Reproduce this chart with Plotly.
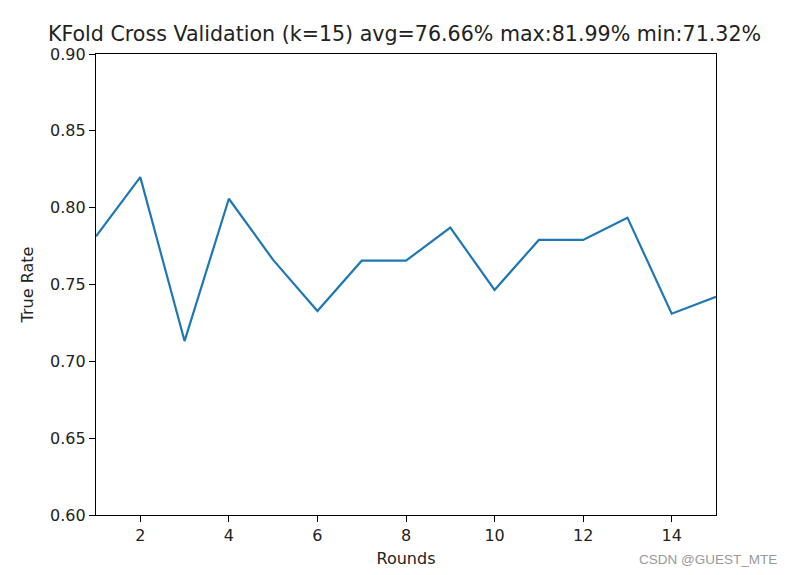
import plotly.graph_objects as go

rounds = list(range(1, 16))
true_rate = [0.7814, 0.8199, 0.7132, 0.8058, 0.7660, 0.7327, 0.7655, 0.7655,
             0.7870, 0.7465, 0.7790, 0.7790, 0.7935, 0.7310, 0.7420]
x_ticks = [2, 4, 6, 8, 10, 12, 14]
y_ticks = [0.60, 0.65, 0.70, 0.75, 0.80, 0.85, 0.90]
title_text = "KFold Cross Validation (k=15) avg=76.66% max:81.99% min:71.32%"

# page body has an 8px offset, compensated in margins
OFF = 8
fig = go.Figure()
fig.add_trace(go.Scatter(x=rounds, y=true_rate, mode="lines",
                         line=dict(color="#1f77b4", width=2.2), showlegend=False))

axis_common = dict(showline=True, linecolor="black", linewidth=1.2, mirror=True,
                   ticks="outside", ticklen=6, tickcolor="black", tickwidth=1.2,
                   showgrid=False, zeroline=False,
                   tickfont=dict(family="DejaVu Sans", size=16, color="#222222"))

fig.update_layout(
    width=791, height=575,
    margin=dict(l=96 - OFF, r=75 + OFF, t=54 - OFF, b=60 + OFF),
    paper_bgcolor="white", plot_bgcolor="white",
    font=dict(family="DejaVu Sans", color="#222222"),
    title=dict(text=title_text, x=(404.5 - OFF) / 791, xanchor="center",
               y=1 - (34 - OFF) / 575, yanchor="middle",
               font=dict(family="DejaVu Sans", size=20.6, color="#222222")),
    xaxis=dict(range=[1, 15], tickvals=x_ticks,
               title=dict(text="Rounds", standoff=8,
                          font=dict(family="DejaVu Sans", size=16)), **axis_common),
    yaxis=dict(range=[0.6, 0.9], tickvals=y_ticks, tickformat=".2f",
               title=dict(text="True Rate", standoff=12,
                          font=dict(family="DejaVu Sans", size=16)), **axis_common),
)

fig.add_annotation(text="CSDN @GUEST_MTE", xref="paper", yref="paper",
                   x=683 / 620, xanchor="right",
                   y=-(559 - 515) / 461, yanchor="middle", showarrow=False,
                   font=dict(family="Liberation Sans", size=13.5, color="#999999"))

fig.write_html("out.html")
